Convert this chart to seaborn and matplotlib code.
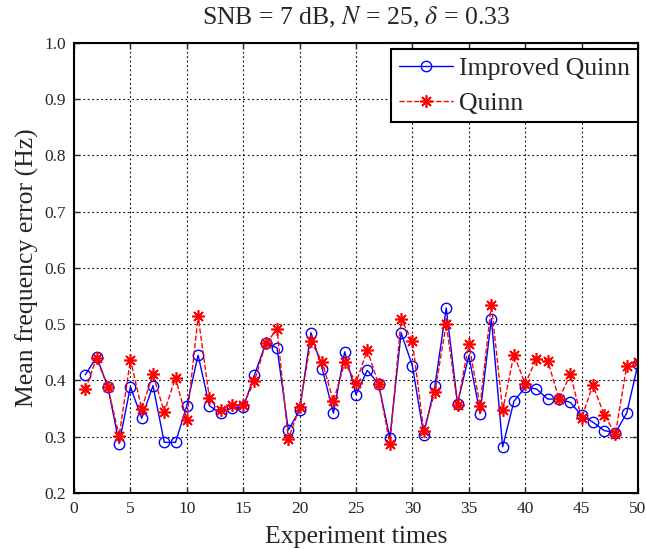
import numpy as np
import pandas as pd
import seaborn as sns
import matplotlib.pyplot as plt

# 实验次数
times = np.arange(1, 51)

improved_quinn = [0.410, 0.442, 0.389, 0.288, 0.389, 0.333, 0.391, 0.290, 0.290, 0.355,
                  0.445, 0.355, 0.342, 0.351, 0.352, 0.410, 0.466, 0.458, 0.312, 0.347,
                  0.485, 0.421, 0.342, 0.451, 0.375, 0.418, 0.394, 0.298, 0.485, 0.426,
                  0.304, 0.391, 0.529, 0.359, 0.444, 0.341, 0.510, 0.282, 0.363, 0.388,
                  0.385, 0.367, 0.367, 0.361, 0.338, 0.326, 0.311, 0.307, 0.342, 0.429]

quinn = [0.384, 0.440, 0.388, 0.301, 0.437, 0.350, 0.411, 0.344, 0.405, 0.329,
         0.514, 0.369, 0.347, 0.357, 0.357, 0.399, 0.466, 0.491, 0.296, 0.352,
         0.470, 0.433, 0.363, 0.432, 0.396, 0.454, 0.394, 0.287, 0.509, 0.470,
         0.311, 0.380, 0.501, 0.357, 0.465, 0.355, 0.535, 0.347, 0.446, 0.394,
         0.439, 0.435, 0.367, 0.411, 0.333, 0.392, 0.339, 0.305, 0.426, 0.432]

df = pd.DataFrame({'times': times, 'Improved Quinn': improved_quinn, 'Quinn': quinn})

sns.set_style('ticks')
plt.rcParams['font.family'] = ['Liberation Serif', 'DejaVu Serif']
plt.rcParams['mathtext.fontset'] = 'stix'

fig = plt.figure(figsize=(6.46, 5.49), dpi=100)
ax = fig.add_axes([0.1146, 0.102, 0.8730, 0.8197])

sns.lineplot(data=df, x='times', y='Improved Quinn', ax=ax, color='#0000FF',
             marker='o', markersize=7.5, markerfacecolor='none', markeredgecolor='#0000FF',
             markeredgewidth=1.0, linewidth=1.0, label='Improved Quinn')
sns.lineplot(data=df, x='times', y='Quinn', ax=ax, color='#FF0000',
             marker=(8, 2, 0), markersize=9, markeredgecolor='#FF0000',
             markeredgewidth=1.2, linewidth=1.0, linestyle='--', label='Quinn')

ax.set_xlim(0, 50)
ax.set_ylim(0.2, 1.0)
ax.set_xticks(np.arange(0, 51, 5))
ax.set_yticks(np.arange(0.2, 1.01, 0.1))
ax.set_yticklabels([f'{v:.1f}' for v in np.arange(0.2, 1.01, 0.1)])
ax.tick_params(direction='in', top=True, right=True, labelsize=12.5, length=4, width=1, pad=6)
ax.grid(True, color='black', linestyle=(0, (1.5, 2.5)), linewidth=0.8)
for s in ax.spines.values():
    s.set_color('black')
    s.set_linewidth(1.5)

ax.set_xlabel('Experiment times', fontsize=18.5, labelpad=6)
ax.set_ylabel('Mean frequency error (Hz)', fontsize=18.5, labelpad=4)
ax.set_title(r'SNB = 7 dB, $N$ = 25, $\delta$ = 0.33', fontsize=18.5, pad=13)

leg = ax.legend(loc='upper right', bbox_to_anchor=(1.0, 0.986), fontsize=18.5,
                frameon=True, fancybox=False, borderaxespad=0, handlelength=2.1,
                handletextpad=0.25, borderpad=0.3, labelspacing=0.45)
leg.get_frame().set_edgecolor('black')
leg.get_frame().set_linewidth(1.5)
leg.get_frame().set_alpha(1)

fig.savefig('out.png', dpi=100)
